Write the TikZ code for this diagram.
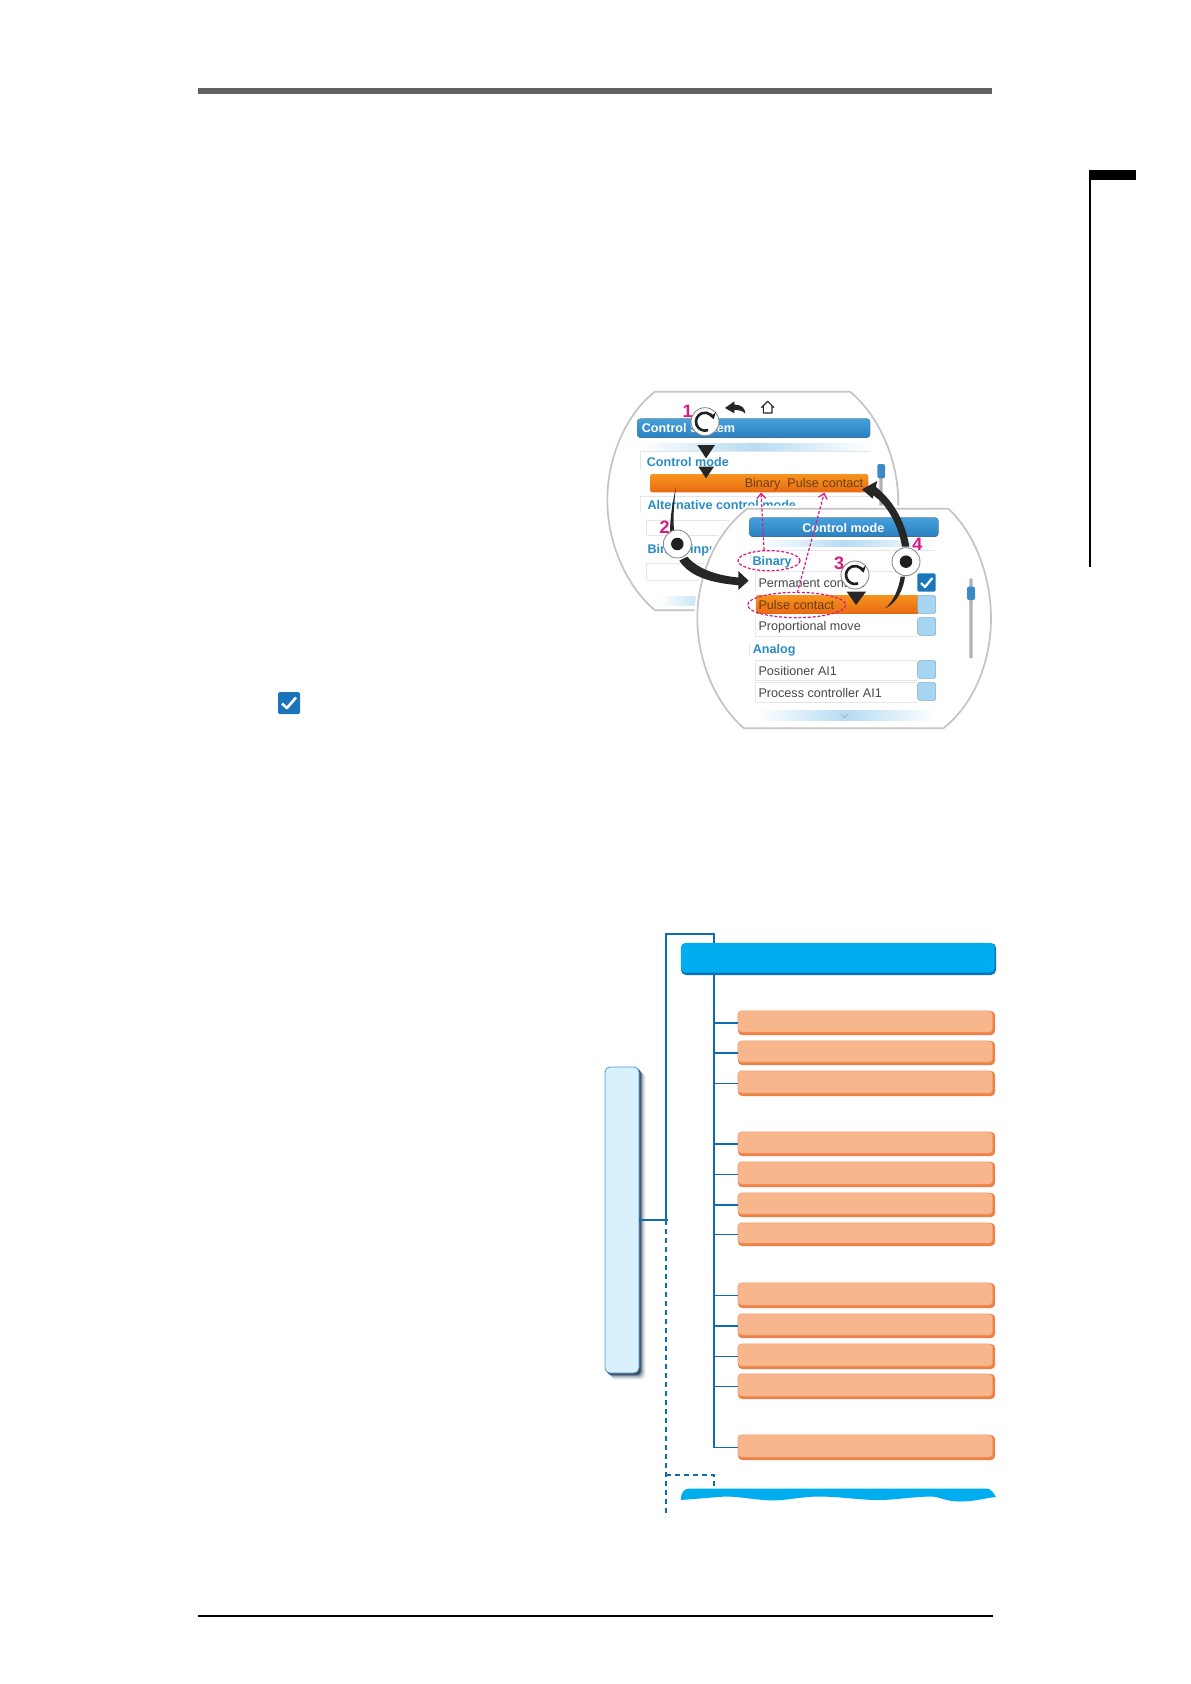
\documentclass[tikz,border=0pt]{standalone}
\usepackage{fontspec}
\setmainfont{Liberation Sans}
\usetikzlibrary{arrows.meta}
\definecolor{treeblue}{HTML}{0F6CB0}
\definecolor{barblue}{HTML}{00AEEF}
\definecolor{bardark}{HTML}{0A74BE}
\definecolor{ofront}{HTML}{F7B68C}
\definecolor{oback}{HTML}{EF8048}
\definecolor{oedge}{HTML}{F29A6A}
\definecolor{lightbox}{HTML}{D9F1FC}
\definecolor{shadowink}{HTML}{1F3B55}
\definecolor{pinkmark}{HTML}{D81B84}
\definecolor{uiblue}{HTML}{2A8CC4}
\definecolor{headtop}{HTML}{45A0DC}
\definecolor{headbot}{HTML}{2B80BF}
\definecolor{stripmid}{HTML}{B5DCF3}
\definecolor{ringgrey}{HTML}{C4C4C4}
\definecolor{rowline}{HTML}{E4E6E8}
\definecolor{chkblue}{HTML}{1A75BB}
\definecolor{chklight}{HTML}{A5D5F3}
\definecolor{rowtop}{HTML}{F7941D}
\definecolor{rowbot}{HTML}{E86A14}
\definecolor{rowink}{HTML}{6A3F12}
\tikzset{
  obase/.style={fill=oback,rounded corners=4pt,minimum width=257pt,inner sep=0pt,anchor=center},
  treeline/.style={draw=treeblue,line width=1.5pt},
  treedash/.style={draw=treeblue,line width=1.5pt,dash pattern=on 5pt off 4pt},
  screen/.style={draw=ringgrey,line width=1.7pt,fill=white,line join=round,preaction={draw=white,line width=6pt}},
  header/.style={rounded corners=3pt,top color=headtop,bottom color=headbot},
  headtext/.style={text=white,font=\fontsize{12.6}{14}\selectfont\bfseries,inner sep=0pt},
  bluetext/.style={text=uiblue,font=\fontsize{12.6}{14}\selectfont\bfseries,inner sep=0pt,anchor=west},
  rowtext/.style={text=black!72,font=\fontsize{12.6}{14}\selectfont,inner sep=0pt,anchor=west},
  numtext/.style={text=pinkmark,font=\fontsize{18}{20}\selectfont\bfseries,inner sep=0pt},
  rowbox/.style={draw=rowline,line width=.8pt},
  knob/.style={circle,draw=black!45,line width=.9pt,fill=white,minimum size=28pt,inner sep=0pt},
  dot/.style={circle,fill=black!88,minimum size=12.5pt,inner sep=0pt},
  tick/.style={fill=black!85},
  pinkdash/.style={draw=pinkmark,line width=1.2pt,dash pattern=on 3pt off 1.8pt},
  pinktip/.style={-{Straight Barb[length=5pt,width=9pt,line width=1.2pt]}},
  strip/.style={left color=white,right color=white,middle color=stripmid},
  chkfill/.style={rounded corners=1.5pt,fill=chklight,draw=chklight!80!black,line width=.4pt},
  chkon/.style={rounded corners=1.5pt,fill=chkblue},
  chkmark/.style={draw=white,line width=2.2pt,line join=round},
}
\newcommand{\obox}[3]{%
  \node[obase,minimum height=#3-#2] (#1) at (866.5,{(#2+#3)/2}) {};
  \fill[ofront,draw=oedge,line width=.5pt,rounded corners=4pt]
    (#1.north west) rectangle ([xshift=-2.5pt,yshift=3pt]#1.south east);
}
\newcommand{\turnarrow}[2]{%
  \draw[black!88,line width=2.6pt,-{Stealth[length=6.5pt,width=8pt]}]
    ({#1+27*cos(70)},{#2+27*sin(70)}) arc[start angle=70,end angle=345,radius=27];
}
\begin{document}
\begin{tikzpicture}[x=1pt,y=-1pt]
\useasboundingbox (0,0) rectangle (1191,1684);
\fill[white] (0,0) rectangle (1191,1684);
% page furniture
\fill[black!62] (198,87.5) rectangle (992,94);
\fill[black] (1089,170) rectangle (1136,180);
\fill[black] (1089,170) rectangle (1091,567);
\fill[black] (198,1614.5) rectangle (993,1617);
\fill[chkblue,rounded corners=1.5pt] (278,692) rectangle (300,714);
\draw[chkmark,line width=2.6pt] (282,703.5) -- (287,708) -- (296,697.5);

% ===== screens (coordinates of the 3x crop) =====
\begin{scope}[shift={(590,370)},x=.33333pt,y=-.33333pt]
  % back screen
  \draw[screen] (195,65) -- (780,65) .. controls (860,130) and (925,260) .. (925,400)
     .. controls (925,520) and (880,650) .. (780,721) -- (195,721)
     .. controls (110,650) and (52,520) .. (52,390) .. controls (52,260) and (110,130) .. (195,65) -- cycle;
  \fill[header] (142,146) rectangle (840,203);
  \node[headtext,anchor=west] (backhead) at (155,178) {Control System};
  \shade[strip] (150,220) rectangle (840,240);
  \draw[rowbox] (150,300) -- (150,245) -- (840,245);
  \node[bluetext] (cmode) at (170,275) {Control mode};
  \shade[top color=rowtop,bottom color=rowbot,rounded corners=2.5pt] (180,312) rectangle (835,367);
  \node[text=rowink,font=\fontsize{12.6}{14}\selectfont,inner sep=0pt,anchor=east] (cvalue) at (820,343) {Binary\hspace{7pt}Pulse contact};
  \draw[rowbox] (150,430) -- (150,380) -- (840,380);
  \node[bluetext] (altmode) at (172,405) {Alternative control mode};
  \draw[rowbox] (170,495) -- (170,450) -- (500,450);
  \draw[rowbox] (170,495) -- (500,495);
  \node[bluetext] (binin) at (172,540) {Binary inputs};
  \draw[rowbox] (170,630) -- (170,580) -- (450,580);
  \draw[rowbox] (170,630) -- (450,630);
  \shade[strip] (210,680) rectangle (500,705);
  \fill[black!30,rounded corners=1pt] (868,300) rectangle (878,410);
  \fill[chkblue!85,rounded corners=2pt] (862,282) rectangle (885,325);
  % back arrow and home icons
  \fill[black!85] (405,114) -- (433,94) -- (433,104) .. controls (455,104) and (466,115) .. (466,131)
     .. controls (458,122) and (447,120) .. (433,120) -- (433,130) -- cycle;
  \draw[black!85,line width=1.1pt,line join=round] (514,113) -- (533,94) -- (552,113) (520,108) -- (520,129) -- (546,129) -- (546,108);

  % front screen
  \draw[screen] (472,416) -- (1075,416) .. controls (1155,490) and (1203,620) .. (1203,745)
     .. controls (1203,870) and (1155,1000) .. (1060,1075) -- (462,1075)
     .. controls (375,1000) and (322,870) .. (322,745) .. controls (322,620) and (375,490) .. (472,416) -- cycle;
  \fill[header] (478,443) rectangle (1045,500);
  \node[headtext] (fronthead) at (760,474) {Control mode};
  \shade[strip] (500,510) rectangle (1040,530);
  \draw[rowbox] (480,570) -- (480,540) -- (1035,540);
  \node[bluetext] (binary) at (487,576) {Binary};
  % rows
  \draw[rowbox] (495,665) -- (495,605) -- (980,605);
  \draw[rowbox] (495,800) -- (495,735);
  \draw[rowbox] (495,800) -- (980,800);
  \node[rowtext] (perm) at (505,640) {Permanent contact};
  \shade[top color=rowtop,bottom color=rowbot] (500,675) rectangle (985,730);
  \node[text=rowink,font=\fontsize{12.6}{14}\selectfont,inner sep=0pt,anchor=west] (pulse) at (505,704) {Pulse contact};
  \node[rowtext] (prop) at (505,772) {Proportional move};
  \draw[rowbox] (478,855) -- (478,820);
  \node[bluetext] (analog) at (488,840) {Analog};
  \draw[rowbox] (495,930) -- (495,870) -- (980,870);
  \draw[rowbox] (495,930) -- (980,930);
  \node[rowtext] (posit) at (505,903) {Positioner AI1};
  \draw[rowbox] (495,997) -- (495,937) -- (980,937);
  \draw[rowbox] (495,997) -- (980,997);
  \node[rowtext] (proc) at (505,969) {Process controller AI1};
  % checkboxes
  \fill[chkon] (982,610) rectangle (1037,665);
  \draw[chkmark] (993,639) -- (1005,651) -- (1027,624);
  \draw[chkfill] (983,677) rectangle (1037,730);
  \draw[chkfill] (983,743) rectangle (1037,796);
  \draw[chkfill] (983,872) rectangle (1037,925);
  \draw[chkfill] (983,938) rectangle (1037,991);
  % bottom strip and scroll bar
  \shade[strip] (500,1022) rectangle (1040,1050);
  \draw[black!30,line width=.8pt] (752,1031) -- (763,1043) -- (775,1031);
  \fill[black!30,rounded corners=1pt] (1138,625) rectangle (1148,865);
  \fill[chkblue!85,rounded corners=2pt] (1131,650) rectangle (1155,690);

  % pink marks
  \draw[pinkdash] (537,572) ellipse[x radius=93,y radius=30];
  \draw[pinkdash] (620,705) ellipse[x radius=147,y radius=38];
  \draw[pinkdash,pinktip] (522,540) -- (513,368);
  \draw[pinkdash,pinktip] (622,668) -- (703,368);

  % black arrows
  \fill[tick] (258,350) .. controls (252,400) and (248,450) .. (253,490) -- (240,490) .. controls (240,440) and (248,395) .. (258,350) -- cycle;
  \fill[tick] (292,560) .. controls (325,600) and (390,618) .. (450,623) -- (450,646) .. controls (370,640) and (300,622) .. (268,572) -- cycle;
  \fill[tick] (445,603) -- (476,632) -- (445,660) -- cycle;
  \fill[tick] (958,530) .. controls (945,450) and (905,385) .. (850,345) -- (843,372) .. controls (885,395) and (925,460) .. (936,530) -- cycle;
  \fill[tick] (816,358) -- (862,333) -- (848,386) -- cycle;
  \fill[tick] (885,715) .. controls (920,700) and (940,660) .. (945,620) -- (932,620) .. controls (925,660) and (910,695) .. (885,715) -- cycle;

  % knobs
  \node[knob] (knoba) at (345,155) {};
  \turnarrow{345}{155}
  \node[knob] (knobc) at (795,615) {};
  \turnarrow{795}{615}
  \node[knob] (knobb) at (262,522) {};
  \node[dot] (dotb) at (262,522) {};
  \node[knob] (knobd) at (948,575) {};
  \node[dot] (dotd) at (948,575) {};
  % pointers
  \fill[tick] (322,225) -- (375,225) -- (348,265) -- cycle;
  \fill[tick] (325,290) -- (372,290) -- (348,325) -- cycle;
  \fill[tick] (770,665) -- (828,665) -- (798,705) -- cycle;
  % numbers
  \node[numtext] (num1) at (293,125) {1};
  \node[numtext] (num2) at (224,472) {2};
  \node[numtext] (num3) at (747,580) {3};
  \node[numtext] (num4) at (982,522) {4};
\end{scope}

% ===== tree =====
% side box with soft shadow
\foreach \o/\a in {6.5/.08,5.5/.10,4.5/.14,3.5/.22,2.5/.5,1.5/.7}{
  \fill[shadowink,opacity=\a,rounded corners=4pt] (605+\o,1067+\o) rectangle (639+\o,1373+\o);
}
\node[fill=lightbox,draw=treeblue!70,line width=.8pt,rounded corners=5pt,minimum width=34pt,minimum height=306pt,inner sep=0pt] (side) at (622,1220) {};

\node[fill=bardark,rounded corners=5pt,minimum width=315pt,minimum height=32pt,inner sep=0pt] (head) at (838.5,959) {};
\fill[barblue,rounded corners=5pt] (head.north west) rectangle ([xshift=-1.5pt,yshift=2.5pt]head.south east);

\obox{a1}{1011}{1035}
\obox{a2}{1041}{1065}
\obox{a3}{1071}{1096}
\obox{b1}{1132}{1156}
\obox{b2}{1162}{1187}
\obox{b3}{1193}{1217}
\obox{b4}{1223}{1246}
\obox{c1}{1283}{1308}
\obox{c2}{1314}{1338}
\obox{c3}{1344}{1369}
\obox{c4}{1374}{1399}
\obox{d1}{1435}{1460}

% next (cut-off) bar
\fill[barblue] (681,1500) .. controls (681,1492) and (684,1488.5) .. (690,1488.5) -- (987,1488.5)
  .. controls (991,1488.5) and (995,1495) .. (996,1497)
  .. controls (985,1498) and (975,1501.5) .. (960,1501.5) .. controls (945,1501.5) and (940,1496.5) .. (930,1496.5)
  .. controls (910,1497) and (895,1500) .. (878,1500) .. controls (860,1500) and (840,1496.5) .. (817,1496.5)
  .. controls (800,1497) and (785,1500.5) .. (773,1500.5) .. controls (755,1500) and (740,1496.5) .. (725,1496.5) -- cycle;
\coordinate (nextbar) at (714,1490);

% connectors
\coordinate (frametop) at (666,934);
\coordinate (framejoin) at (666,1220);
\coordinate (frameend) at (666,1517);
\coordinate (dashturn) at (666,1475);
\coordinate (trunkx) at (714,0);
\draw[treeline] (side.east |- framejoin) -- ([xshift=2pt]framejoin);
\draw[treeline] (framejoin) -- (frametop) -- (trunkx |- frametop) -- (trunkx |- head.north);
\draw[treedash] (framejoin) -- (frameend);
\draw[treedash] (dashturn) -- (dashturn -| trunkx) -- (nextbar);
\draw[treeline] (trunkx |- head.south) -- (trunkx |- d1.west);
\foreach \n in {a1,a2,a3,b1,b2,b3,b4,c1,c2,c3,c4,d1}{
  \draw[treeline] (trunkx |- \n.west) -- (\n.west);
}
\end{tikzpicture}
\end{document}
